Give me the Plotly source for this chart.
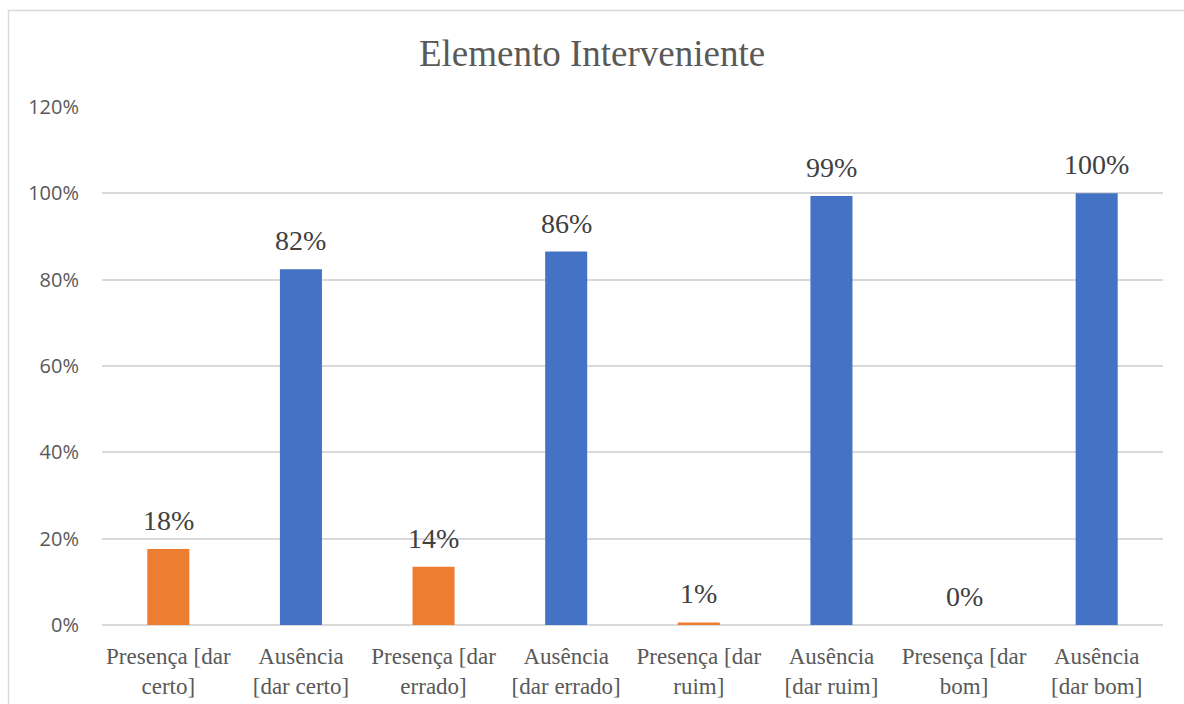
import plotly.graph_objects as go

categories = [
    "Presença [dar<br>certo]", "Ausência<br>[dar certo]",
    "Presença [dar<br>errado]", "Ausência<br>[dar errado]",
    "Presença [dar<br>ruim]", "Ausência<br>[dar ruim]",
    "Presença [dar<br>bom]", "Ausência<br>[dar bom]",
]
values = [0.176, 0.824, 0.135, 0.865, 0.006, 0.994, 0.0, 1.0]
bar_colors = ["#ED7D31", "#4472C4"] * 4
y_ticks = [0, 0.2, 0.4, 0.6, 0.8, 1.0, 1.2]

serif = "'Liberation Serif'"

fig = go.Figure()
fig.add_trace(go.Bar(
    x=categories, y=values,
    marker=dict(color=bar_colors, line=dict(width=0)),
    hoverinfo="skip",
))

for c, v in zip(categories, values):
    fig.add_annotation(
        x=c, y=v, text=f"{v:.0%}", showarrow=False,
        yanchor="bottom", yshift=11,
        font=dict(family=serif, size=28, color="#404040"),
    )

fig.add_shape(
    type="rect", xref="paper", yref="paper",
    x0=-0.0881, x1=1.2, y0=-0.3, y1=1.1863,
    line=dict(color="#d9d9d9", width=1.5), fillcolor="rgba(0,0,0,0)", layer="below",
)

fig.update_layout(
    width=1184, height=704,
    margin=dict(l=102, r=21, t=107, b=79),
    paper_bgcolor="white", plot_bgcolor="white",
    showlegend=False,
    bargap=0.683,
    title=dict(
        text="Elemento Interveniente", x=0.5, xanchor="center",
        y=1 - 53 / 704, yanchor="middle", yref="container",
        font=dict(family=serif, size=37, color="#595959"),
    ),
    xaxis=dict(
        showgrid=False, showline=False, ticks="", automargin=False,
        tickfont=dict(family=serif, size=23, color="#595959"),
        ticklabelstandoff=15,
    ),
    yaxis=dict(
        range=[0, 1.2], tickvals=y_ticks, tickformat=".0%", automargin=False,
        showgrid=True, gridcolor="#d9d9d9", gridwidth=1.5,
        zeroline=True, zerolinecolor="#d9d9d9", zerolinewidth=1.5,
        showline=False, ticks="",
        tickfont=dict(family="Open Sans", size=20, color="#595959"),
        ticklabelstandoff=22,
    ),
)

fig.write_html("out.html")
